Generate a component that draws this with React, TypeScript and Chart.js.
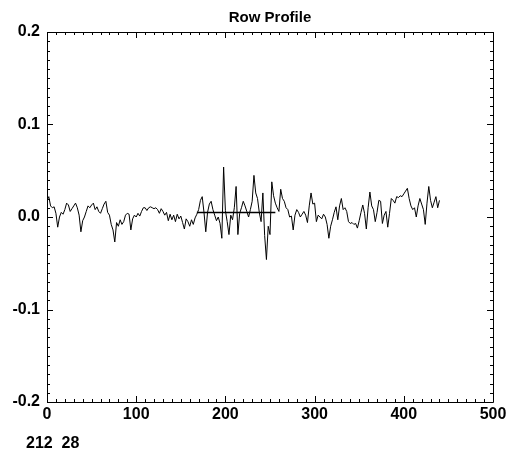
import React, { useEffect, useRef } from "react";
import { Chart, registerables } from "chart.js";

Chart.register(...registerables);

const chartTitle = "Row Profile";
const statusText = "212  28";
const sampleStep = 2;

// row profile values, one per sample (x = 0, 2, 4, ... 440)
const rowProfile = [
  0.018, 0.022, 0.012, 0.010, 0.011, 0.004, -0.011, 0.000, 0.005, 0.003,
  0.008, 0.015, 0.013, 0.006, 0.009, 0.012, 0.015, 0.010, 0.002, -0.016,
  -0.004, 0.000, 0.006, 0.012, 0.010, 0.013, 0.015, 0.008, 0.011, 0.006,
  0.004, 0.009, 0.014, 0.017, 0.005, 0.002, -0.008, -0.014, -0.027, -0.006,
  -0.010, -0.003, -0.008, -0.005, 0.002, 0.004, 0.003, -0.014, -0.002, 0.002,
  0.000, 0.004, 0.001, 0.006, 0.010, 0.010, 0.007, 0.010, 0.011, 0.010,
  0.009, 0.010, 0.008, 0.004, 0.009, 0.006, 0.002, 0.005, -0.004, 0.003,
  -0.003, 0.002, -0.005, 0.003, -0.002, 0.001, -0.006, -0.013, -0.002, -0.005,
  -0.010, -0.003, -0.008, -0.001, 0.003, 0.008, 0.018, 0.022, 0.005, -0.016,
  0.005, 0.014, 0.017, 0.008, 0.002, -0.004, 0.000, -0.007, -0.023, 0.054,
  0.007, -0.005, -0.019, 0.002, -0.003, 0.010, 0.033, -0.019, 0.004, 0.010,
  0.017, 0.012, 0.006, 0.000, 0.008, 0.017, 0.045, 0.026, 0.020, 0.005,
  -0.005, 0.026, -0.020, -0.046, -0.010, -0.019, 0.038, 0.023, 0.015, 0.010,
  0.006, 0.030, 0.020, 0.017, 0.010, 0.008, 0.000, 0.001, -0.014, 0.002,
  0.008, 0.005, 0.000, 0.003, 0.006, 0.002, -0.006, 0.012, 0.026, 0.014,
  0.015, -0.005, 0.002, 0.000, -0.002, 0.003, 0.000, -0.008, -0.023, -0.010,
  -0.003, 0.005, 0.011, -0.003, 0.012, 0.020, 0.008, 0.010, 0.006, -0.005,
  -0.007, -0.006, -0.008, -0.007, -0.012, -0.004, 0.005, 0.013, 0.004, -0.013,
  0.010, 0.027, 0.012, 0.008, -0.005, 0.005, 0.018, 0.017, -0.007, 0.002,
  0.006, -0.011, 0.004, 0.020, 0.018, 0.015, 0.022, 0.021, 0.023, 0.022,
  0.025, 0.028, 0.031, 0.020, 0.012, 0.008, 0.010, 0.000, 0.012, 0.020,
  0.014, 0.008, -0.008, 0.015, 0.033, 0.018, 0.010, 0.016, 0.022, 0.010,
  0.018,
];

// horizontal reference segment
const baselineX = [168, 256];
const baselineY = [0.005, 0.005];

const xTickValues = [0, 100, 200, 300, 400, 500];
const xTickLabels = ["0", "100", "200", "300", "400", "500"];
const yTickValues = [-0.2, -0.1, 0.0, 0.1, 0.2];
const yTickLabels = ["-0.2", "-0.1", "0.0", "0.1", "0.2"];

const FONT = '"Liberation Sans", Arial, sans-serif';

const framePlugin = {
  id: "idlFrame",
  afterDraw(chart: any) {
    const { ctx, chartArea } = chart;
    const xs = chart.scales.x;
    const ys = chart.scales.y;
    const { left, right, top, bottom } = chartArea;
    ctx.save();
    ctx.strokeStyle = "#000";
    ctx.lineWidth = 1;
    ctx.beginPath();
    ctx.rect(Math.round(left) + 0.5, Math.round(top) + 0.5, Math.round(right - left), Math.round(bottom - top));
    ctx.stroke();
    ctx.beginPath();
    for (let i = 0; i <= 50; i++) {
      const v = i * 10;
      const px = Math.round(xs.getPixelForValue(v)) + 0.5;
      const len = i % 10 === 0 ? 6 : 3;
      ctx.moveTo(px, bottom);
      ctx.lineTo(px, bottom - len);
      ctx.moveTo(px, top);
      ctx.lineTo(px, top + len);
    }
    for (let i = -20; i <= 20; i++) {
      const v = i / 100;
      const py = Math.round(ys.getPixelForValue(v)) + 0.5;
      const len = i % 10 === 0 ? 6 : 3;
      ctx.moveTo(left, py);
      ctx.lineTo(left + len, py);
      ctx.moveTo(right, py);
      ctx.lineTo(right - len, py);
    }
    ctx.stroke();
    ctx.fillStyle = "#000";
    ctx.font = `bold 16px ${FONT}`;
    ctx.textAlign = "left";
    ctx.textBaseline = "alphabetic";
    ctx.fillText(statusText, 26, 448);
    ctx.restore();
  },
};

export default function App() {
  const canvasRef = useRef<HTMLCanvasElement | null>(null);

  useEffect(() => {
    if (!canvasRef.current) return;
    const points = rowProfile.map((v, i) => ({ x: i * sampleStep, y: v }));
    const base = baselineX.map((x, i) => ({ x, y: baselineY[i] }));
    const chart = new Chart(canvasRef.current, {
      type: "line",
      data: {
        datasets: [
          {
            data: points,
            borderColor: "#000",
            borderWidth: 1,
            pointRadius: 0,
            tension: 0,
            fill: false,
          },
          {
            data: base,
            borderColor: "#000",
            borderWidth: 1.5,
            pointRadius: 0,
            tension: 0,
            fill: false,
          },
        ],
      },
      options: {
        animation: false,
        responsive: false,
        devicePixelRatio: 1,
        layout: { padding: { left: 0, right: 17, top: 0, bottom: 0 } },
        plugins: {
          legend: { display: false },
          tooltip: { enabled: false },
          title: {
            display: true,
            text: chartTitle,
            fullSize: false,
            color: "#000",
            font: { family: FONT, size: 15, weight: "bold" },
            padding: { top: 9, bottom: 5 },
          },
        },
        scales: {
          x: {
            type: "linear",
            min: 0,
            max: 500,
            afterFit: (s: any) => {
              s.height = 53;
            },
            afterBuildTicks: (s: any) => {
              s.ticks = xTickValues.map((v) => ({ value: v }));
            },
            ticks: {
              color: "#000",
              font: { family: FONT, size: 16, weight: "bold" },
              padding: 3,
              maxRotation: 0,
              autoSkip: false,
              callback: (v: any) => {
                const i = xTickValues.indexOf(Number(v));
                return i >= 0 ? xTickLabels[i] : "";
              },
            },
            grid: { display: false, drawTicks: false },
            border: { display: false },
          },
          y: {
            type: "linear",
            min: -0.2,
            max: 0.2,
            afterFit: (s: any) => {
              s.width = 47;
            },
            afterBuildTicks: (s: any) => {
              s.ticks = yTickValues.map((v) => ({ value: v }));
            },
            ticks: {
              color: "#000",
              font: { family: FONT, size: 16, weight: "bold" },
              padding: 7,
              autoSkip: false,
              callback: (v: any) => {
                const i = yTickValues.findIndex((t) => Math.abs(t - Number(v)) < 1e-9);
                return i >= 0 ? yTickLabels[i] : "";
              },
            },
            grid: { display: false, drawTicks: false },
            border: { display: false },
          },
        },
      },
      plugins: [framePlugin],
    });
    return () => chart.destroy();
  }, []);

  return (
    <div style={{ position: "absolute", left: 0, top: 0, width: 510, height: 455, background: "#fff" }}>
      <canvas ref={canvasRef} width={510} height={455} />
    </div>
  );
}
